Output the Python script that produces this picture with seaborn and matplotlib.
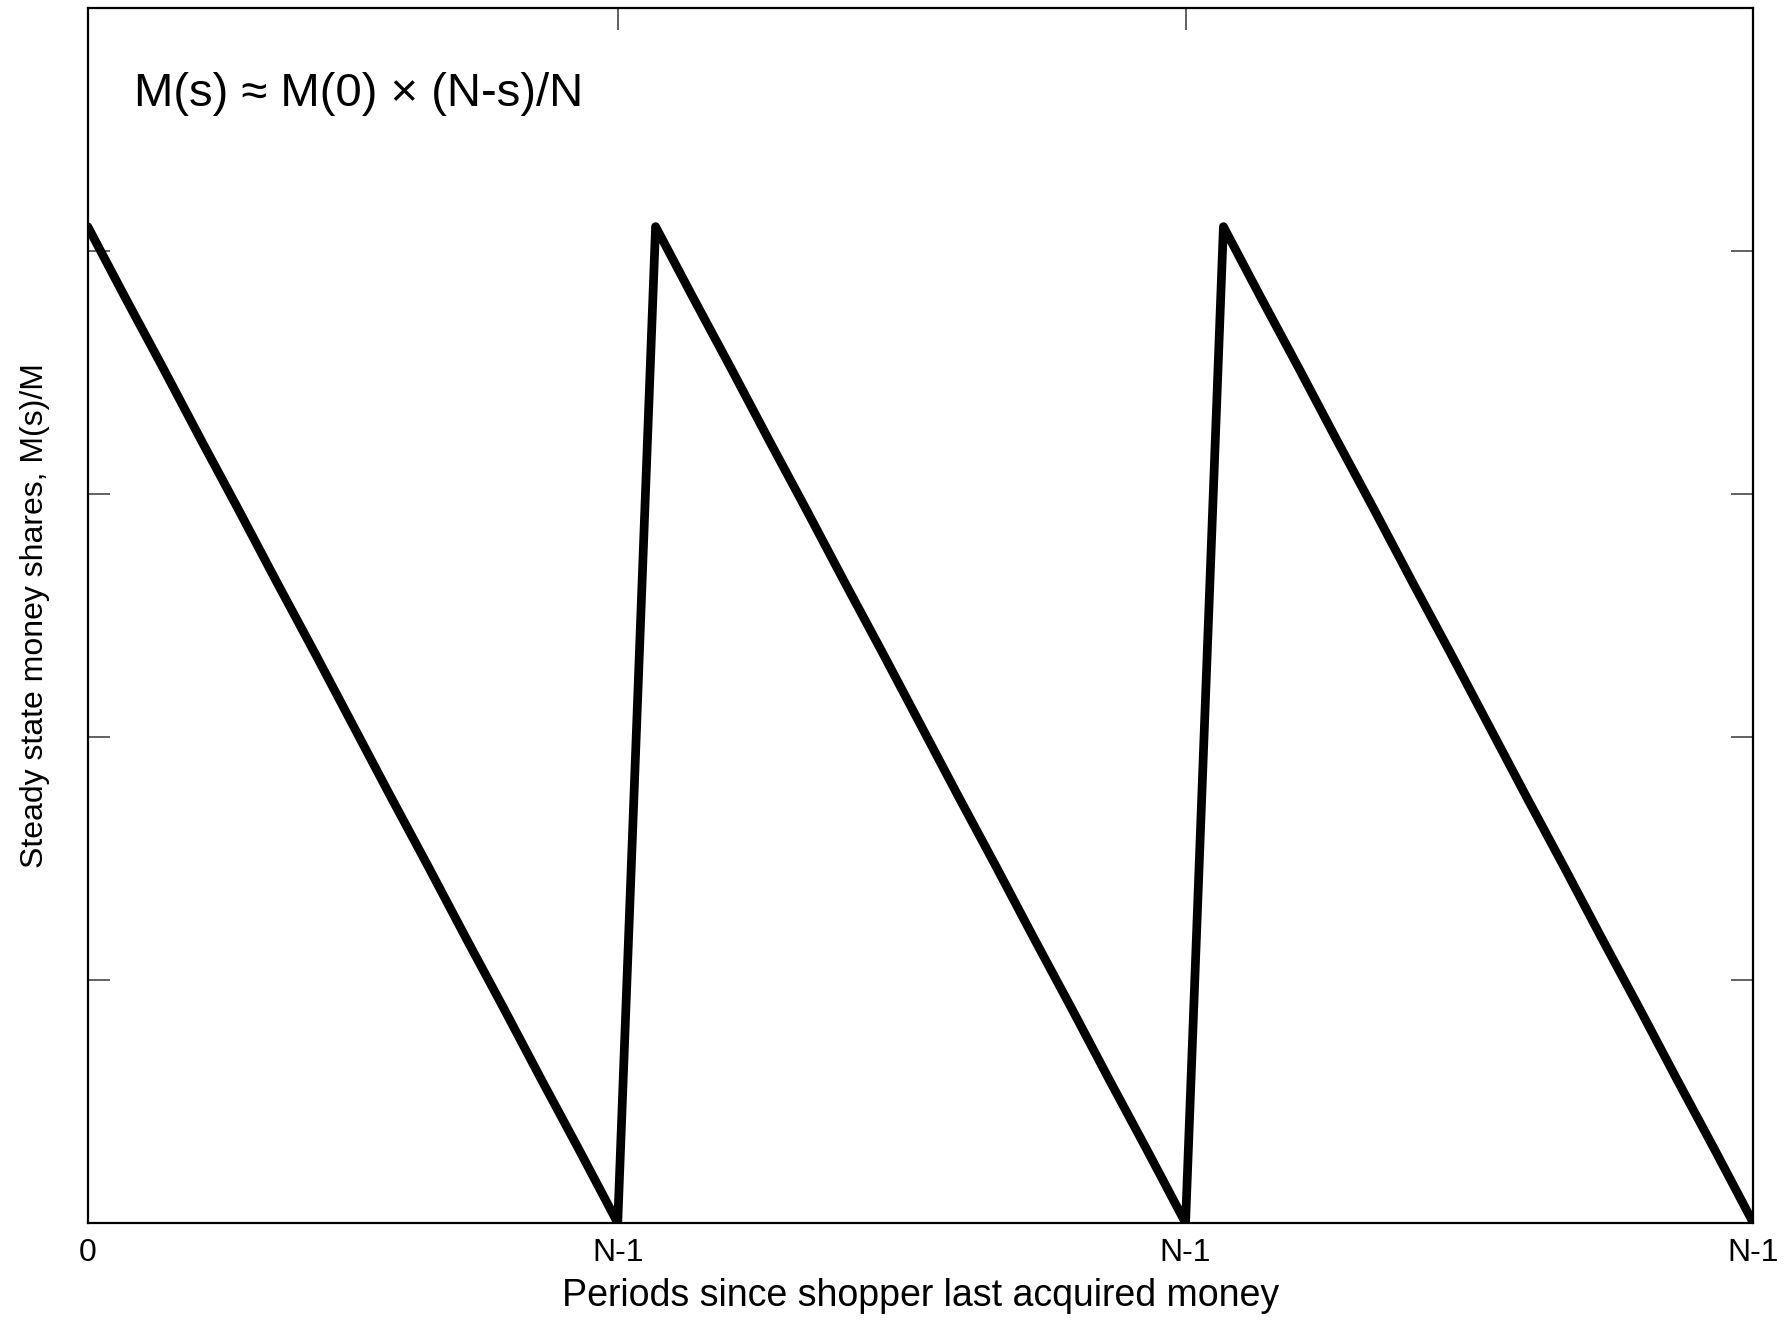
import matplotlib
matplotlib.use("Agg")
import matplotlib.pyplot as plt
import seaborn as sns
import pandas as pd

# Data: three cycles of N = 15 periods, share declines from the peak to zero
periods = list(range(45))
cycle_shares = [0.820, 0.761, 0.703, 0.644, 0.586, 0.527, 0.469, 0.410,
                0.351, 0.293, 0.234, 0.176, 0.117, 0.059, 0.0]
shares = cycle_shares + cycle_shares + cycle_shares
x_tick_pos = [0, 14, 29, 44]
x_tick_labels = ["0", "N-1", "N-1", "N-1"]
y_tick_pos = [0, 0.2, 0.4, 0.6, 0.8, 1.0]

sns.set_theme(style="ticks")
plt.rcParams["font.family"] = ["Liberation Sans", "DejaVu Sans"]
plt.rcParams["text.color"] = "black"
plt.rcParams["axes.labelcolor"] = "black"
plt.rcParams["xtick.labelcolor"] = "black"
plt.rcParams["ytick.labelcolor"] = "black"

df = pd.DataFrame({"period": periods, "share": shares})

fig = plt.figure(figsize=(17.91, 13.2), dpi=100)
ax = fig.add_axes([0.049, 0.0735, 0.930, 0.9205])

sns.lineplot(data=df, x="period", y="share", ax=ax, color="black",
             linewidth=6.3, sort=False, estimator=None)

ax.set_xlim(0, 44)
ax.set_ylim(0, 1.0)
ax.set_xticks(x_tick_pos)
ax.set_xticklabels(x_tick_labels)
ax.set_yticks(y_tick_pos)
ax.set_yticklabels([])

ax.tick_params(axis="both", direction="in", length=16, width=1.3,
               color="#555555", top=True, right=True, labelsize=23, pad=11)
for s in ax.spines.values():
    s.set_linewidth(1.6)
    s.set_color("black")

ax.set_xlabel("Periods since shopper last acquired money", fontsize=27, labelpad=7)
ax.set_ylabel("Steady state money shares, M(s)/M", fontsize=23, labelpad=16)

ax.text(0.0275, 0.929, "M(s) \u2248 M(0) \u00d7 (N-s)/N", transform=ax.transAxes,
        fontsize=34, va="center", ha="left")

fig.savefig("out.png", dpi=100)
